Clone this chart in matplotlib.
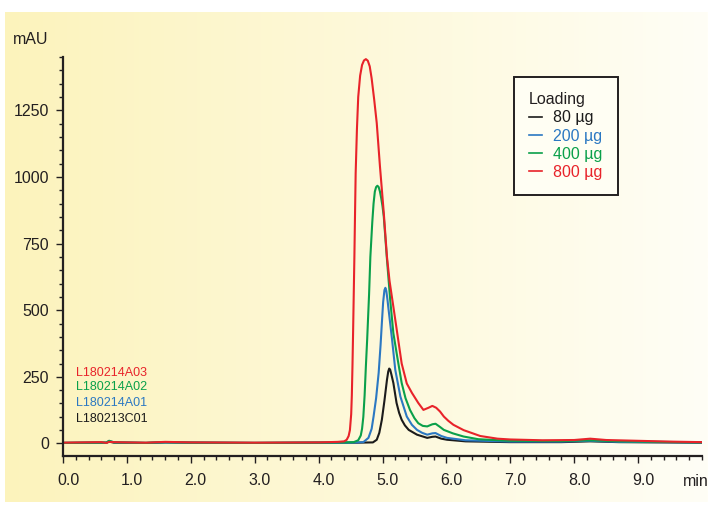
import numpy as np
import matplotlib.pyplot as plt
from matplotlib.lines import Line2D
from matplotlib.ticker import MultipleLocator
from matplotlib import transforms

plt.rcParams['font.family'] = ['Liberation Sans', 'DejaVu Sans']

# chromatogram traces (time in min, absorbance in mAU)
t_80 = [0.0, 0.5, 0.68, 0.72, 0.8, 1.3, 1.6, 2.0, 3.0, 4.0, 4.6, 4.85, 4.91, 4.95, 4.99, 5.03,
        5.07, 5.09, 5.105, 5.12, 5.14, 5.17, 5.22, 5.26, 5.30, 5.35, 5.41, 5.54, 5.70, 5.78,
        5.83, 5.92, 6.01, 6.3, 7.0, 7.8, 8.25, 8.7, 10.0]
v_80 = [2, 3, 3, 7, 3, 2, 4, 3, 2, 3, 3, 4, 14, 40, 89, 160,
        239, 270, 281, 277, 258, 227, 152, 115, 89, 68, 51, 33, 21, 25,
        26, 18, 14, 8, 5, 5, 8, 5, 3]

t_200 = [0.0, 0.5, 0.68, 0.72, 0.8, 1.3, 1.6, 2.0, 3.0, 4.0, 4.5, 4.70, 4.78, 4.83, 4.86,
         4.90, 4.94, 4.97, 4.99, 5.01, 5.03, 5.045, 5.06, 5.08, 5.09, 5.15, 5.20, 5.28,
         5.38, 5.46, 5.54, 5.62, 5.70, 5.78, 5.83, 5.92, 6.01, 6.3, 7.0, 7.8, 8.25, 8.7, 10.0]
v_200 = [2, 3, 3, 10, 4, 2, 4, 3, 2, 3, 3, 5, 21, 55, 101,
         170, 265, 370, 452, 530, 575, 584, 572, 535, 513, 389, 276, 176,
         101, 70, 51, 40, 33, 38, 39, 28, 21, 12, 7, 7, 10, 6, 4]

t_400 = [0.0, 0.5, 0.68, 0.72, 0.8, 1.3, 1.6, 2.0, 3.0, 4.0, 4.4, 4.55, 4.62, 4.66, 4.68,
         4.70, 4.72, 4.74, 4.76, 4.79, 4.81, 4.84, 4.86, 4.88, 4.90, 4.92, 4.94, 4.96,
         4.98, 5.00, 5.02, 5.07, 5.12, 5.17, 5.23, 5.30, 5.36, 5.43, 5.50, 5.56, 5.63,
         5.70, 5.78, 5.83, 5.90, 5.96, 6.1, 6.27, 6.5, 7.0, 7.8, 8.25, 8.7, 10.0]
v_400 = [2, 3, 3, 10, 4, 2, 5, 3, 2, 3, 4, 5, 12, 30, 55,
         100, 180, 290, 390, 560, 700, 830, 900, 945, 962, 967, 962, 945,
         920, 890, 851, 690, 540, 414, 326, 227, 170, 126, 95, 76, 66,
         64, 72, 74, 62, 51, 38, 26, 16, 10, 9, 12, 8, 4]

t_800 = [0.0, 0.3, 0.6, 0.68, 0.72, 0.8, 1.0, 1.3, 1.6, 2.0, 3.0, 4.0, 4.3, 4.40, 4.44,
         4.47, 4.49, 4.51, 4.52, 4.53, 4.54, 4.55, 4.56, 4.57, 4.58, 4.60, 4.62, 4.65,
         4.68, 4.71, 4.74, 4.77, 4.80, 4.83, 4.87, 4.91, 4.96, 5.02, 5.07, 5.11, 5.17,
         5.23, 5.30, 5.38, 5.46, 5.56, 5.64, 5.72, 5.78, 5.84, 5.90, 5.96, 6.03, 6.11,
         6.27, 6.53, 6.8, 7.0, 7.5, 8.0, 8.25, 8.5, 9.0, 9.5, 10.0]
v_800 = [3, 4, 5, 2, 6, 5, 4, 3, 6, 4, 3, 4, 6, 8, 14,
         28, 50, 110, 180, 290, 420, 560, 700, 860, 1014, 1180, 1300, 1380,
         1420, 1437, 1442, 1436, 1415, 1370, 1290, 1202, 1040, 865, 700, 610, 513,
         415, 300, 225, 190, 152, 126, 134, 141, 134, 120, 101, 85, 70,
         50, 28, 18, 15, 12, 13, 18, 13, 10, 7, 5]

series = [
    (t_80, v_80, '#1b1b1b', '80 µg', 'L180213C01'),
    (t_200, v_200, '#2b78c2', '200 µg', 'L180214A01'),
    (t_400, v_400, '#0aa04a', '400 µg', 'L180214A02'),
    (t_800, v_800, '#e8232a', '800 µg', 'L180214A03'),
]

W, H = 708, 505
fig = plt.figure(figsize=(W / 100, H / 100), dpi=100)
fig.patch.set_facecolor('white')

# yellow to white backdrop panel
bg = fig.add_axes([5 / W, 3 / H, 703 / W, 490 / H])
grad = np.linspace(0, 1, 256)
c0 = np.array([252, 243, 188]) / 255
c1 = np.array([255, 254, 246]) / 255
img = c0[None, :] + (c1 - c0)[None, :] * grad[:, None]
bg.imshow(img[None, :, :], aspect='auto', extent=[0, 1, 0, 1])
bg.axis('off')

ax = fig.add_axes([63 / W, 49 / H, 639 / W, 399 / H])
ax.patch.set_alpha(0)
handles = []
for t, v, col, lab, sample in series:
    ax.plot(t, v, color=col, lw=1.5, solid_joinstyle='round')
    handles.append(Line2D([], [], color=col, lw=1.2, label=lab))

ax.set_xlim(0, 10)
ax.set_ylim(-47, 1450)
for s in ['top', 'right']:
    ax.spines[s].set_visible(False)
for s in ['left', 'bottom']:
    ax.spines[s].set_linewidth(1.6)
    ax.spines[s].set_color('#231f20')

ax.xaxis.set_major_locator(MultipleLocator(1))
ax.xaxis.set_minor_locator(MultipleLocator(0.2))
ax.yaxis.set_major_locator(MultipleLocator(250))
ax.yaxis.set_minor_locator(MultipleLocator(50))
ax.set_xticks(np.arange(0, 10, 1.0))
ax.set_xticklabels(['%.1f' % x for x in np.arange(0, 10, 1.0)])
ax.tick_params(which='major', length=5, width=1, color='#231f20', labelsize=11.5,
               labelcolor='#231f20', pad=7.5)
ax.tick_params(which='minor', length=2.6, width=1, color='#231f20')
ax.tick_params(axis='y', which='major', pad=5)
shift = transforms.ScaledTranslation(5 / 100, 0, fig.dpi_scale_trans)
for lbl in ax.get_xticklabels():
    lbl.set_transform(lbl.get_transform() + shift)

fig.text(13 / W, 1 - 40 / H, 'mAU', fontsize=11.5, color='#231f20', va='center', ha='left')
fig.text(683 / W, 1 - 482 / H, 'min', fontsize=11.5, color='#231f20', va='center', ha='left')

# sample ids, bottom-left
ys = [419, 403, 387, 373]
for (t, v, col, lab, sample), y in zip(series, ys):
    fig.text(76 / W, 1 - y / H, sample, fontsize=9, color=col, va='center', ha='left')

leg = ax.legend(handles=handles, title='Loading', loc='upper left',
                bbox_to_anchor=(514 / W, 1 - 77 / H), bbox_transform=fig.transFigure,
                fontsize=11.5, title_fontsize=11.5, alignment='left', frameon=True,
                fancybox=False, edgecolor='#231f20', facecolor='#fffef3', framealpha=1,
                handlelength=0.8, handletextpad=0.7, labelspacing=0.2, borderpad=0.95,
                labelcolor='linecolor', borderaxespad=0)
leg.get_frame().set_linewidth(1.4)
leg.get_title().set_color('#231f20')

fig.savefig('out.png', dpi=100)
